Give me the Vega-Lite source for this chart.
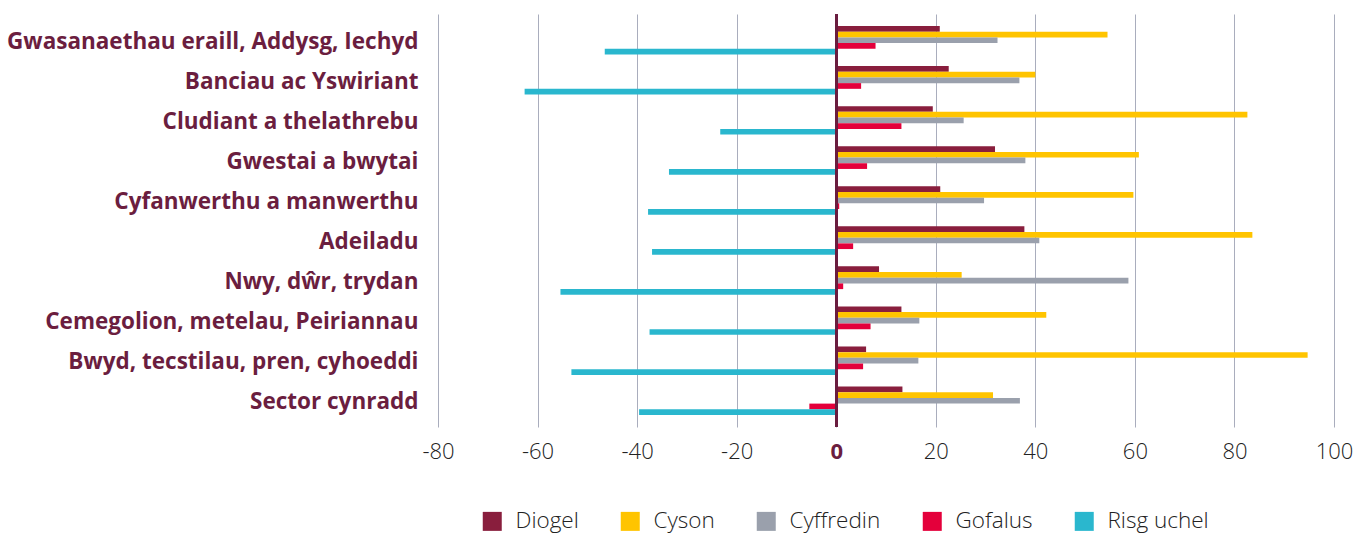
{
  "$schema": "https://vega.github.io/schema/vega-lite/v6.json",
  "width": 896,
  "height": 413,
  "autosize": {"type": "none"},
  "padding": {"left": 438, "top": 14, "right": 31, "bottom": 107},
  "background": "white",
  "config": {"view": {"stroke": null}, "font": "Open Sans"},
  "data": {
    "values": [
      {"sector": "Gwasanaethau eraill, Addysg, Iechyd", "series": "Diogel", "value": 20.8},
      {"sector": "Gwasanaethau eraill, Addysg, Iechyd", "series": "Cyson", "value": 54.5},
      {"sector": "Gwasanaethau eraill, Addysg, Iechyd", "series": "Cyffredin", "value": 32.4},
      {"sector": "Gwasanaethau eraill, Addysg, Iechyd", "series": "Gofalus", "value": 7.9},
      {"sector": "Gwasanaethau eraill, Addysg, Iechyd", "series": "Risg uchel", "value": -46.5},
      {"sector": "Banciau ac Yswiriant", "series": "Diogel", "value": 22.6},
      {"sector": "Banciau ac Yswiriant", "series": "Cyson", "value": 40.0},
      {"sector": "Banciau ac Yswiriant", "series": "Cyffredin", "value": 36.8},
      {"sector": "Banciau ac Yswiriant", "series": "Gofalus", "value": 5.0},
      {"sector": "Banciau ac Yswiriant", "series": "Risg uchel", "value": -62.6},
      {"sector": "Cludiant a thelathrebu", "series": "Diogel", "value": 19.4},
      {"sector": "Cludiant a thelathrebu", "series": "Cyson", "value": 82.6},
      {"sector": "Cludiant a thelathrebu", "series": "Cyffredin", "value": 25.6},
      {"sector": "Cludiant a thelathrebu", "series": "Gofalus", "value": 13.1},
      {"sector": "Cludiant a thelathrebu", "series": "Risg uchel", "value": -23.3},
      {"sector": "Gwestai a bwytai", "series": "Diogel", "value": 31.9},
      {"sector": "Gwestai a bwytai", "series": "Cyson", "value": 60.8},
      {"sector": "Gwestai a bwytai", "series": "Cyffredin", "value": 38.0},
      {"sector": "Gwestai a bwytai", "series": "Gofalus", "value": 6.2},
      {"sector": "Gwestai a bwytai", "series": "Risg uchel", "value": -33.6},
      {"sector": "Cyfanwerthu a manwerthu", "series": "Diogel", "value": 20.9},
      {"sector": "Cyfanwerthu a manwerthu", "series": "Cyson", "value": 59.7},
      {"sector": "Cyfanwerthu a manwerthu", "series": "Cyffredin", "value": 29.7},
      {"sector": "Cyfanwerthu a manwerthu", "series": "Gofalus", "value": 0.6},
      {"sector": "Cyfanwerthu a manwerthu", "series": "Risg uchel", "value": -37.8},
      {"sector": "Adeiladu", "series": "Diogel", "value": 37.8},
      {"sector": "Adeiladu", "series": "Cyson", "value": 83.6},
      {"sector": "Adeiladu", "series": "Cyffredin", "value": 40.8},
      {"sector": "Adeiladu", "series": "Gofalus", "value": 3.4},
      {"sector": "Adeiladu", "series": "Risg uchel", "value": -37.0},
      {"sector": "Nwy, dŵr, trydan", "series": "Diogel", "value": 8.6},
      {"sector": "Nwy, dŵr, trydan", "series": "Cyson", "value": 25.2},
      {"sector": "Nwy, dŵr, trydan", "series": "Cyffredin", "value": 58.7},
      {"sector": "Nwy, dŵr, trydan", "series": "Gofalus", "value": 1.4},
      {"sector": "Nwy, dŵr, trydan", "series": "Risg uchel", "value": -55.4},
      {"sector": "Cemegolion, metelau, Peiriannau", "series": "Diogel", "value": 13.1},
      {"sector": "Cemegolion, metelau, Peiriannau", "series": "Cyson", "value": 42.2},
      {"sector": "Cemegolion, metelau, Peiriannau", "series": "Cyffredin", "value": 16.7},
      {"sector": "Cemegolion, metelau, Peiriannau", "series": "Gofalus", "value": 6.9},
      {"sector": "Cemegolion, metelau, Peiriannau", "series": "Risg uchel", "value": -37.5},
      {"sector": "Bwyd, tecstilau, pren, cyhoeddi", "series": "Diogel", "value": 6.0},
      {"sector": "Bwyd, tecstilau, pren, cyhoeddi", "series": "Cyson", "value": 94.7},
      {"sector": "Bwyd, tecstilau, pren, cyhoeddi", "series": "Cyffredin", "value": 16.5},
      {"sector": "Bwyd, tecstilau, pren, cyhoeddi", "series": "Gofalus", "value": 5.4},
      {"sector": "Bwyd, tecstilau, pren, cyhoeddi", "series": "Risg uchel", "value": -53.2},
      {"sector": "Sector cynradd", "series": "Diogel", "value": 13.3},
      {"sector": "Sector cynradd", "series": "Cyson", "value": 31.5},
      {"sector": "Sector cynradd", "series": "Cyffredin", "value": 36.9},
      {"sector": "Sector cynradd", "series": "Gofalus", "value": -5.4},
      {"sector": "Sector cynradd", "series": "Risg uchel", "value": -39.6}
    ]
  },
  "layer": [
    {
      "mark": {"type": "bar"},
      "encoding": {
        "y": {
          "field": "sector",
          "type": "nominal",
          "sort": null,
          "scale": {"paddingInner": 0.29, "paddingOuter": 0.3},
          "axis": {
            "title": null,
            "ticks": false,
            "domain": false,
            "labelFont": "Open Sans",
            "labelFontSize": 22.5,
            "labelFontWeight": "bold",
            "labelColor": "#6b1e3f",
            "labelPadding": 20,
            "labelOffset": 1.5,
            "labelLimit": 450
          }
        },
        "yOffset": {
          "field": "series",
          "type": "nominal",
          "sort": ["Diogel", "Cyson", "Cyffredin", "Gofalus", "Risg uchel"],
          "scale": {"paddingInner": 0, "paddingOuter": 0}
        },
        "x": {
          "field": "value",
          "type": "quantitative",
          "scale": {"domain": [-80, 100], "nice": false},
          "axis": {
            "title": null,
            "values": [-80, -60, -40, -20, 0, 20, 40, 60, 80, 100],
            "labelExpr": "datum.value + ''",
            "labelFlush": false,
            "grid": true,
            "gridColor": "#a9adbd",
            "gridWidth": 1,
            "ticks": false,
            "domain": false,
            "labelFontSize": 22,
            "labelPadding": 14,
            "labelColor": {"condition": {"test": "datum.value === 0", "value": "#6b1e3f"}, "value": "#222222"},
            "labelFontWeight": {"condition": {"test": "datum.value === 0", "value": "bold"}, "value": 300}
          }
        },
        "color": {
          "field": "series",
          "type": "nominal",
          "scale": {
            "domain": ["Diogel", "Cyson", "Cyffredin", "Gofalus", "Risg uchel"],
            "range": ["#891e3d", "#ffc400", "#9aa0ac", "#e4003b", "#2ab7ce"]
          },
          "legend": {
            "orient": "none",
            "legendX": 43,
            "legendY": 496,
            "direction": "horizontal",
            "columns": 5,
            "title": null,
            "symbolType": "square",
            "symbolSize": 361,
            "symbolStrokeWidth": 0,
            "symbolOpacity": 1,
            "labelFontSize": 22.5,
            "labelFontWeight": 300,
            "labelColor": "#222222",
            "labelOffset": 12,
            "columnPadding": 40
          }
        }
      }
    },
    {
      "mark": {"type": "rule", "color": "#6b1e3f", "strokeWidth": 2},
      "encoding": {"x": {"datum": 0}}
    }
  ]
}
